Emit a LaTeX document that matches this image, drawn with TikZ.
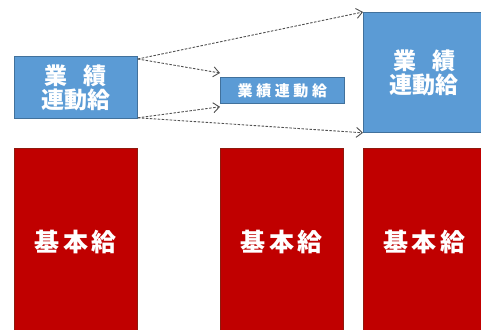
\documentclass[tikz,border=0pt]{standalone}
\usepackage{fontspec}
\newfontfamily\cjk{Noto Sans CJK JP}
\usetikzlibrary{arrows.meta}
\definecolor{fillblue}{HTML}{5B9BD5}
\definecolor{bordblue}{HTML}{41719C}
\definecolor{fillred}{HTML}{C00000}
\definecolor{bordred}{HTML}{8E1A0E}
\definecolor{arrgray}{HTML}{505050}
\begin{document}
\begin{tikzpicture}[x=1pt,y=-1pt,
  bluebox/.style={draw=bordblue, fill=fillblue, line width=0.8pt, inner sep=0pt, text=white, anchor=north west, align=center},
  redbox/.style={draw=bordred, fill=fillred, line width=0.8pt, inner sep=0pt, text=white, anchor=north west, align=center},
  bigtxt/.style={font=\cjk\bfseries\fontsize{23}{24}\selectfont},
  smalltxt/.style={font=\cjk\bfseries\fontsize{15}{15}\selectfont\addfontfeature{LetterSpace=24}},
  redtxt/.style={font=\cjk\bfseries\fontsize{25}{25}\selectfont\addfontfeature{LetterSpace=14}},
  arr/.style={draw=arrgray, line width=0.9pt, dash pattern=on 2.5pt off 1.5pt, -{Straight Barb[length=6pt,width=10pt]}}]
\useasboundingbox (0,0) rectangle (481,329);
% blue boxes
\node[bluebox, bigtxt, minimum width=123pt, minimum height=62pt] (lb) at (14,56) {業\hspace{0.7em}績\\連動給};
\node[bluebox, smalltxt, minimum width=124pt, minimum height=26pt] (sm) at (220,77) {業績連動給};
\node[bluebox, bigtxt, minimum width=122pt, minimum height=120pt] (rb) at (363,12) {業\hspace{0.7em}績\\連動給};
% red boxes
\node[redbox, redtxt, minimum width=123pt, minimum height=187pt] (r1) at (14,148) {基本給};
\node[redbox, redtxt, minimum width=123pt, minimum height=187pt] (r2) at (220,148) {基本給};
\node[redbox, redtxt, minimum width=122pt, minimum height=187pt] (r3) at (363,148) {基本給};
% arrows
\draw[arr] ([yshift=-3pt]lb.north east) -- (rb.north west);
\draw[arr] ([yshift=-3pt]lb.north east) -- ([yshift=4pt]sm.north west);
\draw[arr] ([yshift=1pt]lb.south east) -- ([yshift=-3pt]sm.south west);
\draw[arr] ([yshift=1pt]lb.south east) -- (rb.south west);
\end{tikzpicture}
\end{document}
